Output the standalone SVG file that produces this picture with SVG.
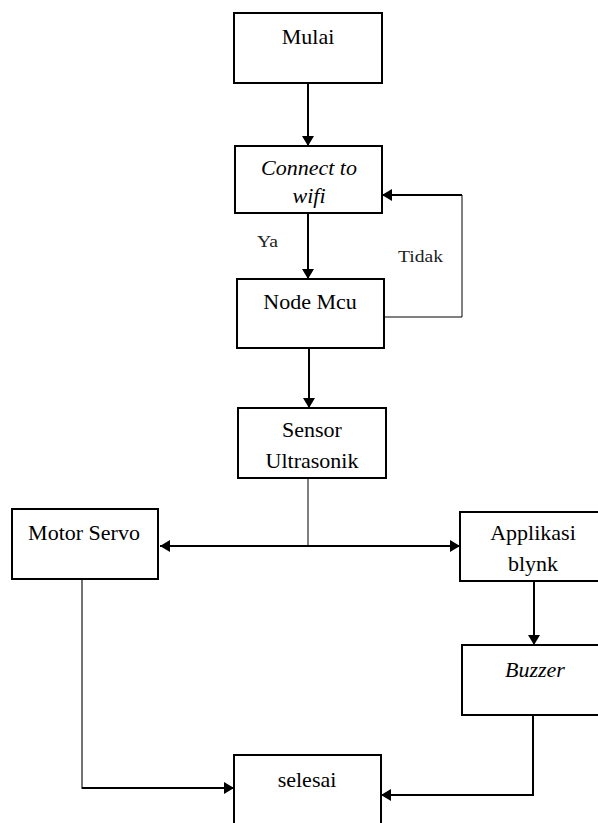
<svg xmlns="http://www.w3.org/2000/svg" width="598" height="823" viewBox="0 0 598 823">
<style>
.box{fill:#fff;stroke:#000;stroke-width:2}
text{font-family:'Liberation Serif','DejaVu Serif',serif;fill:#000}
.t{font-size:22px;text-anchor:middle}
.i{font-style:italic}
.lbl{font-size:17px;fill:#222}
.c{fill:none;stroke:#000;stroke-width:2}
.thin{fill:none;stroke:#000;stroke-width:1}
.gray{fill:none;stroke:#444;stroke-width:1.5}
</style>
<defs>
<marker id="ah" markerUnits="userSpaceOnUse" markerWidth="11" markerHeight="12" refX="10" refY="6" orient="auto-start-reverse" viewBox="0 0 11 12">
<path d="M0,0 L10,6 L0,12 z" fill="#000"/>
</marker>
</defs>
<g id="connectors">
<line class="c" x1="308" y1="83" x2="308" y2="146" marker-end="url(#ah)"/>
<line class="c" x1="308" y1="213" x2="308" y2="279" marker-end="url(#ah)"/>
<polyline class="thin" points="384,317 462,317 462,195"/>
<line class="c" x1="462" y1="195" x2="382" y2="195" marker-end="url(#ah)"/>
<line class="c" x1="309" y1="348" x2="309" y2="408" marker-end="url(#ah)"/>
<line class="thin" x1="308" y1="478" x2="308" y2="546"/>
<line class="c" x1="160" y1="546" x2="460" y2="546" marker-start="url(#ah)" marker-end="url(#ah)"/>
<line class="c" x1="534" y1="581" x2="534" y2="645" marker-end="url(#ah)"/>
<polyline class="gray" points="82,579 82,788 200,788"/>
<line class="c" x1="82" y1="788" x2="234" y2="788" marker-end="url(#ah)"/>
<polyline class="c" points="533,715 533,795 381,795" marker-end="url(#ah)"/>
<text class="lbl" x="257" y="247" textLength="21" lengthAdjust="spacingAndGlyphs">Ya</text>
<text class="lbl" x="398" y="262" textLength="45" lengthAdjust="spacingAndGlyphs">Tidak</text>
</g>
<g id="mulai">
<rect class="box" x="234" y="13" width="148" height="70"/>
<text class="t" x="308" y="44">Mulai</text>
</g>
<g id="connect">
<rect class="box" x="235" y="146" width="147" height="67"/>
<text class="t i" x="309" y="175">Connect to</text>
<text class="t i" x="309" y="203">wifi</text>
</g>
<g id="nodemcu">
<rect class="box" x="237" y="279" width="147" height="69"/>
<text class="t" x="310" y="309">Node Mcu</text>
</g>
<g id="sensor">
<rect class="box" x="238" y="408" width="148" height="70"/>
<text class="t" x="312" y="437">Sensor</text>
<text class="t" x="312" y="468">Ultrasonik</text>
</g>
<g id="motorservo">
<rect class="box" x="12" y="509" width="146" height="70"/>
<text class="t" x="84" y="540">Motor Servo</text>
</g>
<g id="applikasi">
<rect class="box" x="460" y="512" width="150" height="69"/>
<text class="t" x="533" y="540">Applikasi</text>
<text class="t" x="533" y="571">blynk</text>
</g>
<g id="buzzer">
<rect class="box" x="462" y="645" width="150" height="70"/>
<text class="t i" x="535" y="677">Buzzer</text>
</g>
<g id="selesai">
<rect class="box" x="234" y="755" width="147" height="80"/>
<text class="t" x="307" y="787">selesai</text>
</g>
</svg>
